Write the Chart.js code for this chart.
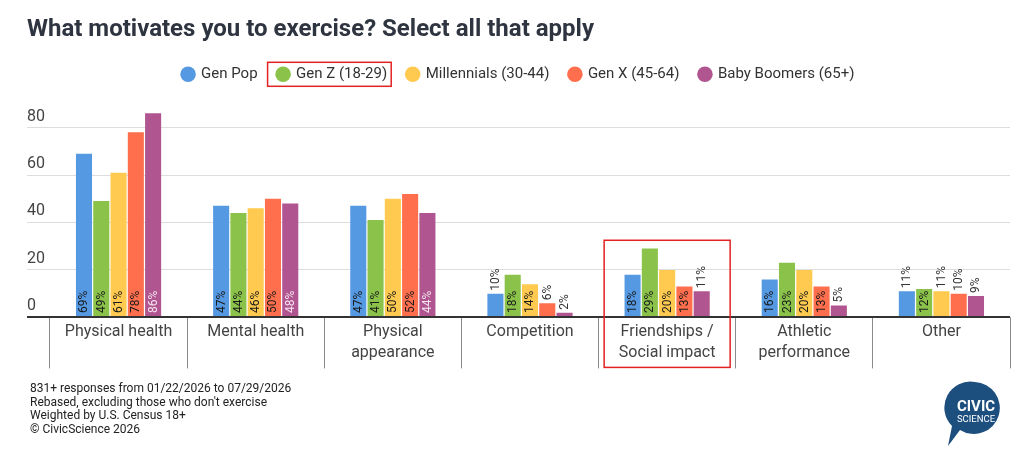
<!DOCTYPE html>
<html>
<head>
<meta charset="utf-8">
<script src="https://cdn.jsdelivr.net/npm/chart.js@4.4.1/dist/chart.umd.min.js"></script>
<style>
    body { margin: 0; background: #fff; font-family: Roboto, sans-serif; }
    #wrap { position: relative; width: 1024px; height: 453px; }
    #notes { position: absolute; left: 30px; top: 382px; font-size: 12px; line-height: 13.7px; color: #222; }
    #logo { position: absolute; left: 940px; top: 376px; }
</style>
</head>
<body>
<div id="wrap">
    <canvas id="chartMotivos"></canvas>
    <div id="notes">
        831+ responses from 01/22/2026 to 07/29/2026<br>
        Rebased, excluding those who don't exercise<br>
        Weighted by U.S. Census 18+<br>
        © CivicScience 2026
    </div>
    <svg id="logo" width="72" height="74" viewBox="0 0 72 74">
        <path d="M35 6 A26 26 0 1 1 20 54 L8 70 L12 50 A26 26 0 0 1 35 6 Z" fill="#1d4f7e"/>
        <text x="36" y="35" fill="#fff" font-family="Roboto" font-weight="bold" font-size="15" text-anchor="middle">CIVIC</text>
        <text x="36" y="46" fill="#fff" font-family="Roboto" font-size="9.5" text-anchor="middle">SCIENCE</text>
    </svg>
</div>
<script>
var categories = [['Physical health'], ['Mental health'], ['Physical', 'appearance'], ['Competition'],
    ['Friendships /', 'Social impact'], ['Athletic', 'performance'], ['Other']];
var seriesNames = ['Gen Pop', 'Gen Z (18-29)', 'Millennials (30-44)', 'Gen X (45-64)', 'Baby Boomers (65+)'];
var genPop = [69, 47, 47, 10, 18, 16, 11];
var genZ = [49, 44, 41, 18, 29, 23, 12];
var millennials = [61, 46, 50, 14, 20, 20, 11];
var genX = [78, 50, 52, 6, 13, 13, 10];
var boomers = [86, 48, 44, 2, 11, 5, 9];
var yTicks = [0, 20, 40, 60, 80];

var cores = ['#5599e3', '#8bc34a', '#ffca4f', '#ff6f4e', '#b0558f'];
var coresTexto = ['#1a1a1a', '#1a1a1a', '#1a1a1a', '#1a1a1a', '#f6e6f0'];
var valores = [genPop, genZ, millennials, genX, boomers];

function alinha(p, w) {
    return Math.round(p - w / 2) + w / 2;
}

// extra room between legend and plot
var margemLegenda = {
    id: 'margemLegenda',
    beforeInit: function (chart) {
        var fitOriginal = chart.legend.fit;
        chart.legend.fit = function () {
            fitOriginal.bind(chart.legend)();
            this.height += 12;
        };
    }
};

// grid stubs under the y labels, dark zero line, category separators
var eixos = {
    id: 'eixos',
    beforeDatasetsDraw: function (chart) {
        var ctx = chart.ctx;
        var y = chart.scales.y;
        var area = chart.chartArea;
        ctx.save();
        ctx.strokeStyle = '#dddddd';
        ctx.lineWidth = 1;
        yTicks.forEach(function (v) {
            if (v === 0) return;
            var py = alinha(y.getPixelForValue(v), 1);
            ctx.beginPath();
            ctx.moveTo(y.left, py);
            ctx.lineTo(area.left, py);
            ctx.stroke();
        });
        ctx.restore();
    },
    afterDatasetsDraw: function (chart) {
        var ctx = chart.ctx;
        var x = chart.scales.x;
        var y = chart.scales.y;
        var area = chart.chartArea;
        var passo = x.getPixelForValue(1) - x.getPixelForValue(0);
        ctx.save();
        ctx.strokeStyle = '#8a8a8a';
        ctx.lineWidth = 1;
        for (var i = 0; i <= categories.length; i++) {
            var px = alinha(x.getPixelForValue(0) - passo / 2 + i * passo, 1);
            ctx.beginPath();
            ctx.moveTo(px, area.bottom);
            ctx.lineTo(px, area.bottom + 51);
            ctx.stroke();
        }
        var p0 = alinha(y.getPixelForValue(0), 2);
        ctx.strokeStyle = '#333';
        ctx.lineWidth = 2;
        ctx.beginPath();
        ctx.moveTo(y.left, p0);
        ctx.lineTo(area.right, p0);
        ctx.stroke();
        ctx.restore();
    }
};

// percent labels, rotated, inside the bar when there is room
var barLabels = {
    id: 'barLabels',
    afterDatasetsDraw: function (chart) {
        var ctx = chart.ctx;
        ctx.save();
        ctx.font = '12px Roboto';
        ctx.textBaseline = 'middle';
        ctx.textAlign = 'left';
        chart.data.datasets.forEach(function (ds, i) {
            var meta = chart.getDatasetMeta(i);
            meta.data.forEach(function (bar, j) {
                var v = ds.data[j];
                var dentro = v >= 12;
                ctx.fillStyle = dentro ? coresTexto[i] : '#333';
                ctx.save();
                ctx.translate(bar.x + 0.5, dentro ? bar.base - 4 : bar.y - 3);
                ctx.rotate(-Math.PI / 2);
                ctx.fillText(v + '%', 0, 0);
                ctx.restore();
            });
        });
        ctx.restore();
    }
};

// red highlight boxes
var destaques = {
    id: 'destaques',
    afterDraw: function (chart) {
        var ctx = chart.ctx;
        ctx.save();
        ctx.strokeStyle = '#e32222';
        ctx.lineWidth = 1.5;
        var hb = chart.legend.legendHitBoxes[1];
        if (hb) {
            var meio = hb.top + hb.height / 2;
            ctx.strokeRect(hb.left - 10, meio - 12, hb.width + 14, 24);
        }
        var x = chart.scales.x;
        var cx = x.getPixelForValue(4);
        var top = chart.scales.y.getPixelForValue(32.5);
        ctx.strokeRect(cx - 63, top, 126, chart.chartArea.bottom + 50 - top);
        ctx.restore();
    }
};

var ctxGrafico = document.getElementById('chartMotivos');

var graficoMotivos = new Chart(ctxGrafico, {
    type: 'bar',
    data: {
        labels: categories,
        datasets: seriesNames.map(function (nome, i) {
            return {
                label: nome,
                data: valores[i],
                backgroundColor: cores[i],
                borderWidth: 0,
                barPercentage: 0.93,
                categoryPercentage: 0.63
            };
        })
    },
    options: {
        responsive: true,
        maintainAspectRatio: false,
        animation: false,
        devicePixelRatio: 1,
        layout: { padding: { left: 27, right: 14, top: 6, bottom: 86 } },
        plugins: {
            title: {
                display: true,
                text: 'What motivates you to exercise? Select all that apply',
                align: 'start',
                color: '#2f3540',
                font: { family: 'Roboto', size: 24, weight: 'bold' },
                padding: { top: 10, bottom: 2 }
            },
            legend: {
                position: 'top',
                labels: {
                    usePointStyle: true,
                    pointStyle: 'circle',
                    boxWidth: 11,
                    boxHeight: 11,
                    padding: 20,
                    color: '#333',
                    font: { family: 'Roboto', size: 15 }
                }
            },
            tooltip: { enabled: false }
        },
        scales: {
            x: {
                grid: { display: false, drawTicks: false },
                border: { display: false },
                ticks: {
                    padding: 4,
                    color: '#444',
                    font: { family: 'Roboto', size: 16, lineHeight: 1.3 },
                    maxRotation: 0,
                    autoSkip: false
                }
            },
            y: {
                min: 0,
                max: 90,
                afterBuildTicks: function (scale) {
                    scale.ticks = yTicks.map(function (v) { return { value: v }; });
                },
                border: { display: false },
                grid: {
                    drawTicks: false,
                    color: function (c) { return c.tick && c.tick.value === 0 ? 'rgba(0,0,0,0)' : '#dddddd'; }
                },
                ticks: {
                    crossAlign: 'far',
                    padding: 2.5,
                    labelOffset: -11,
                    color: '#444',
                    font: { family: 'Roboto', size: 16 }
                }
            }
        }
    },
    plugins: [margemLegenda, eixos, barLabels, destaques]
});
</script>
</body>
</html>
